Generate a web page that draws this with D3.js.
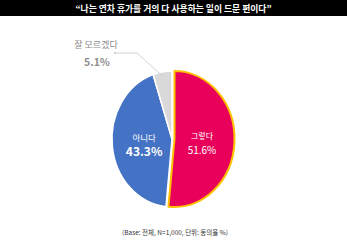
<!DOCTYPE html>
<html>
<head>
<meta charset="utf-8">
<script src="https://cdn.jsdelivr.net/npm/d3@7"></script>
<style>
  html, body { margin: 0; padding: 0; background: #fff; }
  svg { display: block; font-family: "Noto Sans CJK KR", "Noto Sans", sans-serif; }
</style>
</head>
<body>
<div id="chart"></div>
<script>
// 데이터
const titleText = "\u201c나는 연차 휴가를 거의 다 사용하는 일이 드문 편이다\u201d";
const categories = ["그렇다", "아니다", "잘 모르겠다"];
const values = [51.6, 43.3, 5.1];
const colors = ["#E8005A", "#4472C4", "#D9D9D9"];
const footText = "(Base: 전체, N=1,000, 단위: 동의율 %)";

const W = 347, H = 241;
const cx = 173, cy = 139, rx = 60, ry = 68;

const svg = d3.select("#chart").append("svg")
  .attr("width", W).attr("height", H);

// 제목 바
svg.append("rect").attr("x", 0).attr("y", 0).attr("width", W).attr("height", 16).attr("fill", "#000");
svg.append("text")
  .attr("x", W / 2).attr("y", 11.5)
  .attr("text-anchor", "middle")
  .style("font-size", "8.8px").style("font-weight", "bold").style("fill", "#fff")
  .text(titleText);

const data = categories.map((c, i) => ({ name: c, value: values[i], color: colors[i] }));

const pie = d3.pie().sort(null).value(d => d.value);
const arcs = pie(data);

const arc = d3.arc().innerRadius(0).outerRadius(rx);

// 타원형 파이
const g = svg.append("g")
  .attr("transform", `translate(${cx},${cy}) scale(1,${ry / rx})`);

g.selectAll("path.slice")
  .data(arcs)
  .enter()
  .append("path")
  .attr("class", "slice")
  .attr("d", arc)
  .attr("transform", (d, i) => i === 0 ? "translate(1.5,0)" : "translate(-1,0)")
  .attr("fill", d => d.data.color)
  .attr("stroke", (d, i) => i === 0 ? "#FFC000" : "#fff")
  .attr("stroke-width", (d, i) => i === 0 ? 2 : 1.5)
  .attr("vector-effect", "non-scaling-stroke")
  .attr("stroke-linejoin", "round");

// 조각 안 라벨
const labelArc = d3.arc().innerRadius(29).outerRadius(29);
const inside = [
  { i: 0, nameSize: 8, valSize: 10, weight: "normal", dy: 4 },
  { i: 1, nameSize: 8.5, valSize: 12, weight: "bold", dy: 4 }
];
inside.forEach(o => {
  const [x, y] = labelArc.centroid(arcs[o.i]);
  const px = cx + x, py = cy + y * ry / rx + o.dy;
  svg.append("text")
    .attr("x", px).attr("y", py - 6)
    .attr("text-anchor", "middle")
    .style("font-size", o.nameSize + "px").style("fill", "#fff")
    .text(arcs[o.i].data.name);
  svg.append("text")
    .attr("x", px).attr("y", py + 9)
    .attr("text-anchor", "middle")
    .style("font-size", o.valSize + "px").style("font-weight", o.weight).style("fill", "#fff")
    .text(d3.format(".1f")(arcs[o.i].data.value) + "%");
});

// 잘 모르겠다 라벨 + 지시선
const dk = arcs[2];
const dkMid = (dk.startAngle + dk.endAngle) / 2;
const ex = cx - 1 + Math.sin(dkMid) * (rx - 5);
const ey = cy - Math.cos(dkMid) * (ry - 5);
svg.append("polyline")
  .attr("points", `115,53 137,53 ${ex},${ey}`)
  .attr("fill", "none").attr("stroke", "#C8C8C8").attr("stroke-width", 0.8);
svg.append("circle").attr("cx", 115).attr("cy", 53).attr("r", 1).attr("fill", "#C8C8C8");
svg.append("text")
  .attr("x", 96).attr("y", 48)
  .attr("text-anchor", "middle")
  .style("font-size", "9px").style("fill", "#8C8C8C")
  .text(dk.data.name);
svg.append("text")
  .attr("x", 97).attr("y", 66)
  .attr("text-anchor", "middle")
  .style("font-size", "10.5px").style("font-weight", "bold").style("fill", "#8C8C8C")
  .text(d3.format(".1f")(dk.data.value) + "%");

// 하단 주석
svg.append("text")
  .attr("x", 175).attr("y", 235)
  .attr("text-anchor", "middle")
  .style("font-size", "6.5px").style("fill", "#333")
  .text(footText);
</script>
</body>
</html>
